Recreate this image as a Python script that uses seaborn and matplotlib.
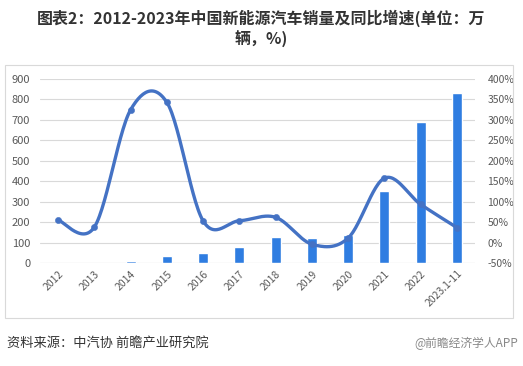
import numpy as np
import pandas as pd
import matplotlib
matplotlib.use('Agg')
import matplotlib.pyplot as plt
import seaborn as sns
from matplotlib.patches import Rectangle

# Chart data
years = ['2012', '2013', '2014', '2015', '2016', '2017', '2018', '2019',
         '2020', '2021', '2022', '2023.1-11']
sales = [1.3, 1.8, 7.5, 33.1, 50.7, 77.7, 125.6, 120.6, 136.7, 352.1, 688.7, 830.4]
growth = [55, 37.9, 324.8, 342.9, 53.0, 53.3, 61.7, -4.0, 10.9, 157.5, 93.4, 36.7]

sns.set_style('white')
plt.rcParams['font.family'] = ['Noto Sans CJK SC', 'DejaVu Sans']

bar_color = '#2f7de1'
line_color = '#4472c4'
grid_color = '#d9d9d9'
text_color = '#595959'

fig = plt.figure(figsize=(5.23, 3.66), dpi=100)
ax = fig.add_axes([40 / 523, 1 - 263 / 366, 435 / 523, 184 / 366])

df = pd.DataFrame({'year': years, 'sales': sales, 'growth': growth})
sns.barplot(data=df, x='year', y='sales', color=bar_color, width=0.28,
            saturation=1, ax=ax, zorder=2)

ax.set_ylim(0, 900)
ax.set_yticks(range(0, 901, 100))
ax.set_xlim(-0.5, len(years) - 0.5)
ax.yaxis.grid(True, color=grid_color, linewidth=0.8, zorder=0)
ax.set_axisbelow(True)
for s in ax.spines.values():
    s.set_visible(False)
ax.axhline(0, color=grid_color, linewidth=0.8, zorder=1)
ax.set_xlabel('')
ax.set_ylabel('')
ax.tick_params(axis='both', length=0, colors=text_color)
ax.tick_params(axis='y', labelsize=8, pad=7)
ax.set_xticks(range(len(years)))
ax.set_xticklabels(years, rotation=45, ha='right', rotation_mode='anchor',
                   fontsize=7.5, color=text_color)
ax.tick_params(axis='x', pad=4)

# Secondary axis for growth rate, smoothed line like Excel
ax2 = ax.twinx()
ax2.set_ylim(-50, 400)
ax2.set_yticks(range(-50, 401, 50))
ax2.set_yticklabels([f'{v}%' for v in range(-50, 401, 50)], fontsize=7.5,
                    color=text_color)
ax2.tick_params(axis='y', length=0, pad=9)
for s in ax2.spines.values():
    s.set_visible(False)

x = np.arange(len(years), dtype=float)
y = np.array(growth, dtype=float)
px = np.concatenate([[x[0]], x, [x[-1]]])
py = np.concatenate([[y[0]], y, [y[-1]]])
sx, sy = [], []
t = np.linspace(0, 1, 30)
for i in range(1, len(px) - 2):
    p0, p1, p2, p3 = px[i - 1], px[i], px[i + 1], px[i + 2]
    q0, q1, q2, q3 = py[i - 1], py[i], py[i + 1], py[i + 2]
    # cubic bezier with Catmull-Rom handles
    c1x, c1y = p1 + (p2 - p0) / 6, q1 + (q2 - q0) / 6
    c2x, c2y = p2 - (p3 - p1) / 6, q2 - (q3 - q1) / 6
    bx = (1 - t) ** 3 * p1 + 3 * (1 - t) ** 2 * t * c1x + 3 * (1 - t) * t ** 2 * c2x + t ** 3 * p2
    by = (1 - t) ** 3 * q1 + 3 * (1 - t) ** 2 * t * c1y + 3 * (1 - t) * t ** 2 * c2y + t ** 3 * q2
    sx.extend(bx)
    sy.extend(by)
ax2.plot(sx, sy, color=line_color, linewidth=2.4, solid_capstyle='round', zorder=3)
sns.scatterplot(x=x, y=y, color=line_color, s=20, edgecolor=line_color,
                ax=ax2, zorder=4)

# Chart frame
fig.patches.append(Rectangle((5 / 523, 1 - 318 / 366), 508 / 523, 253 / 366,
                             transform=fig.transFigure, fill=False,
                             edgecolor='#d9d9d9', linewidth=0.8))

fig.text(0.5, 1 - 18 / 366, '图表2：2012-2023年中国新能源汽车销量及同比增速(单位：万',
         ha='center', va='center', fontsize=11.5, fontweight='bold', color='#333333')
fig.text(0.5, 1 - 39 / 366, '辆，%)', ha='center', va='center', fontsize=11.5,
         fontweight='bold', color='#333333')
fig.text(7 / 523, 1 - 343 / 366, '资料来源：中汽协 前瞻产业研究院',
         ha='left', va='center', fontsize=9.5, color='#333333')
fig.text(518 / 523, 1 - 343 / 366, '@前瞻经济学人APP',
         ha='right', va='center', fontsize=8.5, color='#888888')

plt.savefig('out.png', dpi=100)
